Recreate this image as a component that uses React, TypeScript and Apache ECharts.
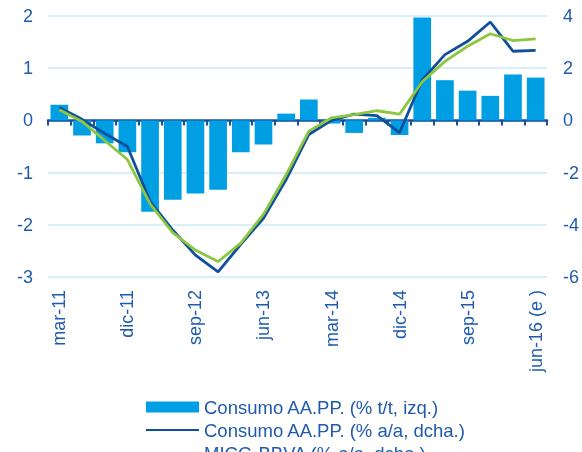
import React, { useEffect, useRef } from 'react';
import * as echarts from 'echarts';

const categories = ['mar-11','jun-11','sep-11','dic-11','mar-12','jun-12','sep-12','dic-12','mar-13','jun-13','sep-13','dic-13','mar-14','jun-14','sep-14','dic-14','mar-15','jun-15','sep-15','dic-15','mar-16','jun-16 (e )'];
const consumoQoQ = [0.30,-0.29,-0.44,-0.61,-1.75,-1.52,-1.40,-1.33,-0.61,-0.46,0.13,0.40,-0.06,-0.24,0.05,-0.28,1.97,0.77,0.57,0.47,0.88,0.82];
const consumoYoY = [0.49,0.04,-0.50,-1.00,-3.10,-4.20,-5.16,-5.80,-4.75,-3.75,-2.27,-0.54,0.00,0.24,0.18,-0.47,1.55,2.52,3.03,3.77,2.65,2.68];
const micgYoY = [0.41,-0.04,-0.77,-1.50,-3.20,-4.30,-4.97,-5.41,-4.70,-3.60,-2.08,-0.41,0.10,0.22,0.37,0.24,1.48,2.26,2.84,3.32,3.06,3.12];
const seriesNames = ['Consumo AA.PP. (% t/t, izq.)','Consumo AA.PP. (% a/a, dcha.)','MICG-BBVA (% a/a, dcha.)'];

const TEXT = '#1f5aad';
const AXIS = '#1a4f9e';
const GRID = '#cdeaf6';
const BAR = '#009fe3';
const DARK = '#0f4f9c';
const GREEN = '#8dc63f';
const FONT = 'Liberation Sans, Arial, sans-serif';

export default function App() {
  const ref = useRef<HTMLDivElement>(null);
  useEffect(() => {
    if (!ref.current) return;
    const chart = echarts.init(ref.current, null, { renderer: 'svg' });
    chart.setOption({
      animation: false,
      textStyle: { fontFamily: FONT },
      grid: { left: 48, right: 34.5, top: 16, bottom: 175, containLabel: false },
      legend: {
        orient: 'vertical',
        left: 140,
        top: 392,
        height: 120,
        itemWidth: 53,
        itemHeight: 11,
        itemGap: 3,
        textStyle: { color: TEXT, fontSize: 18.5, fontFamily: FONT, lineHeight: 20 },
        data: [
          { name: seriesNames[0], icon: 'rect' },
          { name: seriesNames[1], itemStyle: { opacity: 0 } },
          { name: seriesNames[2], itemStyle: { opacity: 0 } },
        ],
      },
      xAxis: [
        {
          type: 'category',
          data: categories,
          position: 'bottom',
          axisLine: { onZero: true, lineStyle: { color: AXIS, width: 2.5 } },
          axisTick: { show: true, interval: 0, length: 5, lineStyle: { color: AXIS, width: 2 } },
          axisLabel: { show: false },
          splitLine: { show: false },
        },
        {
          type: 'category',
          data: categories,
          position: 'bottom',
          axisLine: { show: false, onZero: false },
          axisTick: { show: false },
          axisLabel: { show: true, rotate: 90, interval: 2, margin: 13, color: TEXT, fontSize: 18, fontFamily: FONT },
          splitLine: { show: false },
        },
      ],
      yAxis: [
        {
          type: 'value',
          min: -3,
          max: 2,
          interval: 1,
          axisLine: { show: false },
          axisTick: { show: false },
          axisLabel: { color: TEXT, fontSize: 18, margin: 15, fontFamily: FONT },
          splitLine: { show: true, lineStyle: { color: GRID, width: 1.5 } },
        },
        {
          type: 'value',
          min: -6,
          max: 4,
          interval: 2,
          position: 'right',
          axisLine: { show: false },
          axisTick: { show: false },
          axisLabel: { color: TEXT, fontSize: 18, margin: 16, fontFamily: FONT },
          splitLine: { show: false },
        },
      ],
      series: [
        {
          name: seriesNames[0],
          type: 'bar',
          xAxisIndex: 0,
          yAxisIndex: 0,
          data: consumoQoQ,
          barWidth: '78%',
          itemStyle: { color: BAR },
          z: 1,
        },
        {
          name: seriesNames[1],
          type: 'line',
          xAxisIndex: 0,
          yAxisIndex: 1,
          data: consumoYoY,
          symbol: 'none',
          lineStyle: { color: DARK, width: 2.8 },
          itemStyle: { color: DARK },
          z: 3,
        },
        {
          name: seriesNames[2],
          type: 'line',
          xAxisIndex: 0,
          yAxisIndex: 1,
          data: micgYoY,
          symbol: 'none',
          lineStyle: { color: GREEN, width: 2.8 },
          itemStyle: { color: GREEN },
          z: 4,
        },
      ],
    });
    return () => chart.dispose();
  }, []);
  return <div ref={ref} style={{ position: 'fixed', left: 0, top: 0, width: 582, height: 452 }} />;
}
